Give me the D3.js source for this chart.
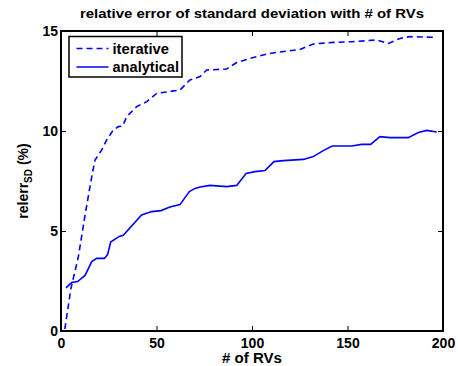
<!DOCTYPE html>
<html>
<head>
<meta charset="utf-8">
<script src="https://cdn.jsdelivr.net/npm/d3@7"></script>
<style>
  body { margin: 0; background: #fff; }
  text { font-family: "Liberation Sans", Arial, sans-serif; font-weight: bold; }
</style>
</head>
<body>
<svg id="chart" width="458" height="366"></svg>
<script>
// iterative curve (dashed)
const iterX = [2, 5.2, 9.1, 12.6, 16.1, 17.8, 21.3, 23.9, 27.4, 30, 32.3, 34.4, 36.1, 39.6, 44.9, 50.1, 62.3, 67.5, 72.8, 76.3, 86.7, 92, 99, 107.7, 112.9, 125.1, 132.1, 142.6, 153, 165.3, 171.4, 177.5, 182.7, 196.7];
const iterY = [0.1, 2.13, 3.72, 5.8, 7.72, 8.55, 9.05, 9.55, 10.05, 10.22, 10.25, 10.72, 10.88, 11.22, 11.47, 11.88, 12.05, 12.55, 12.72, 13.05, 13.1, 13.42, 13.63, 13.85, 13.93, 14.08, 14.35, 14.43, 14.47, 14.55, 14.38, 14.63, 14.72, 14.68];

// analytical curve (solid)
const anaX = [2.6, 5.6, 8.7, 12.6, 16.1, 18.7, 22.7, 24.4, 26, 30.5, 32.6, 42.2, 47.5, 52.4, 57, 62.3, 67.2, 70.2, 72.8, 78, 86.7, 92, 96.9, 101.6, 106.8, 111.5, 116.4, 126.9, 132.1, 137.3, 142, 152.2, 157.4, 162.1, 167, 172.3, 181.8, 187.1, 191.5, 196.7];
const anaY = [2.16, 2.43, 2.47, 2.78, 3.47, 3.63, 3.63, 3.82, 4.45, 4.73, 4.78, 5.8, 5.97, 6.02, 6.2, 6.32, 6.97, 7.13, 7.2, 7.28, 7.22, 7.28, 7.88, 7.97, 8.02, 8.47, 8.52, 8.58, 8.72, 9.02, 9.25, 9.25, 9.33, 9.33, 9.72, 9.67, 9.67, 9.92, 10.03, 9.95];

const xTicks = [0, 50, 100, 150, 200];
const yTicks = [0, 5, 10, 15];
const seriesNames = ["iterative", "analytical"];

const margin = { top: 31, right: 15, bottom: 35, left: 61 };
const width = 458, height = 366;
const w = width - margin.left - margin.right;
const h = height - margin.top - margin.bottom;

const svg = d3.select("#chart");
const g = svg.append("g").attr("transform", "translate(" + margin.left + "," + margin.top + ")");

const x = d3.scaleLinear().domain([0, 200]).range([0, w]);
const y = d3.scaleLinear().domain([0, 15]).range([h, 0]);

// axes, ticks pointing inward, on all four sides
function styleAxis(sel) {
  sel.select(".domain").remove();
  sel.selectAll("line").attr("stroke", "#000").attr("stroke-width", 1);
  sel.selectAll("text").attr("font-size", 14).attr("fill", "#000");
}

g.append("g").attr("transform", "translate(0," + h + ")")
  .call(d3.axisBottom(x).tickValues(xTicks).tickSizeInner(-5).tickSizeOuter(0).tickPadding(7))
  .call(styleAxis);
g.append("g")
  .call(d3.axisTop(x).tickValues(xTicks).tickSizeInner(-5).tickSizeOuter(0).tickFormat(""))
  .call(styleAxis);
g.append("g")
  .call(d3.axisLeft(y).tickValues(yTicks).tickSizeInner(-5).tickSizeOuter(0).tickPadding(3))
  .call(styleAxis);
g.append("g").attr("transform", "translate(" + w + ",0)")
  .call(d3.axisRight(y).tickValues(yTicks).tickSizeInner(-5).tickSizeOuter(0).tickFormat(""))
  .call(styleAxis);

g.append("rect").attr("width", w).attr("height", h)
  .attr("fill", "none").attr("stroke", "#000").attr("stroke-width", 2);

const line = d3.line().x(d => x(d[0])).y(d => y(d[1]));

g.append("path")
  .datum(d3.zip(iterX, iterY))
  .attr("d", line)
  .attr("fill", "none").attr("stroke", "#0000ff").attr("stroke-width", 1.6)
  .attr("stroke-dasharray", "6,4");

g.append("path")
  .datum(d3.zip(anaX, anaY))
  .attr("d", line)
  .attr("fill", "none").attr("stroke", "#0000ff").attr("stroke-width", 1.6);

// legend
const lg = g.append("g").attr("transform", "translate(8,5.5)");
lg.append("rect").attr("width", 113).attr("height", 40.5)
  .attr("fill", "#fff").attr("stroke", "#000").attr("stroke-width", 1.5);
seriesNames.forEach((name, i) => {
  const ly = 12 + i * 18.5;
  lg.append("line").attr("x1", 7.5).attr("x2", 39.5).attr("y1", ly).attr("y2", ly)
    .attr("stroke", "#0000ff").attr("stroke-width", 1.6)
    .attr("stroke-dasharray", i === 0 ? "6,4" : null);
  lg.append("text").attr("x", 43.5).attr("y", ly + 5)
    .attr("font-size", 14).attr("textLength", i === 0 ? 56.5 : 66.5)
    .attr("lengthAdjust", "spacingAndGlyphs").text(name);
});

// title and axis labels
svg.append("text").attr("x", margin.left + w / 2).attr("y", 17.5)
  .attr("text-anchor", "middle").attr("font-size", 13)
  .attr("textLength", 344).attr("lengthAdjust", "spacingAndGlyphs")
  .text("relative error of standard deviation with # of RVs");

svg.append("text").attr("x", margin.left + w / 2).attr("y", 362.5)
  .attr("text-anchor", "middle").attr("font-size", 14)
  .attr("textLength", 60).attr("lengthAdjust", "spacingAndGlyphs")
  .text("# of RVs");

const yl = svg.append("text")
  .attr("transform", "translate(27.5," + (margin.top + h / 2) + ") rotate(-90)")
  .attr("text-anchor", "middle").attr("font-size", 14);
yl.append("tspan").text("relerr");
yl.append("tspan").attr("font-size", 10).attr("dy", 4).text("SD");
yl.append("tspan").attr("dy", -4).text(" (%)");
</script>
</body>
</html>
